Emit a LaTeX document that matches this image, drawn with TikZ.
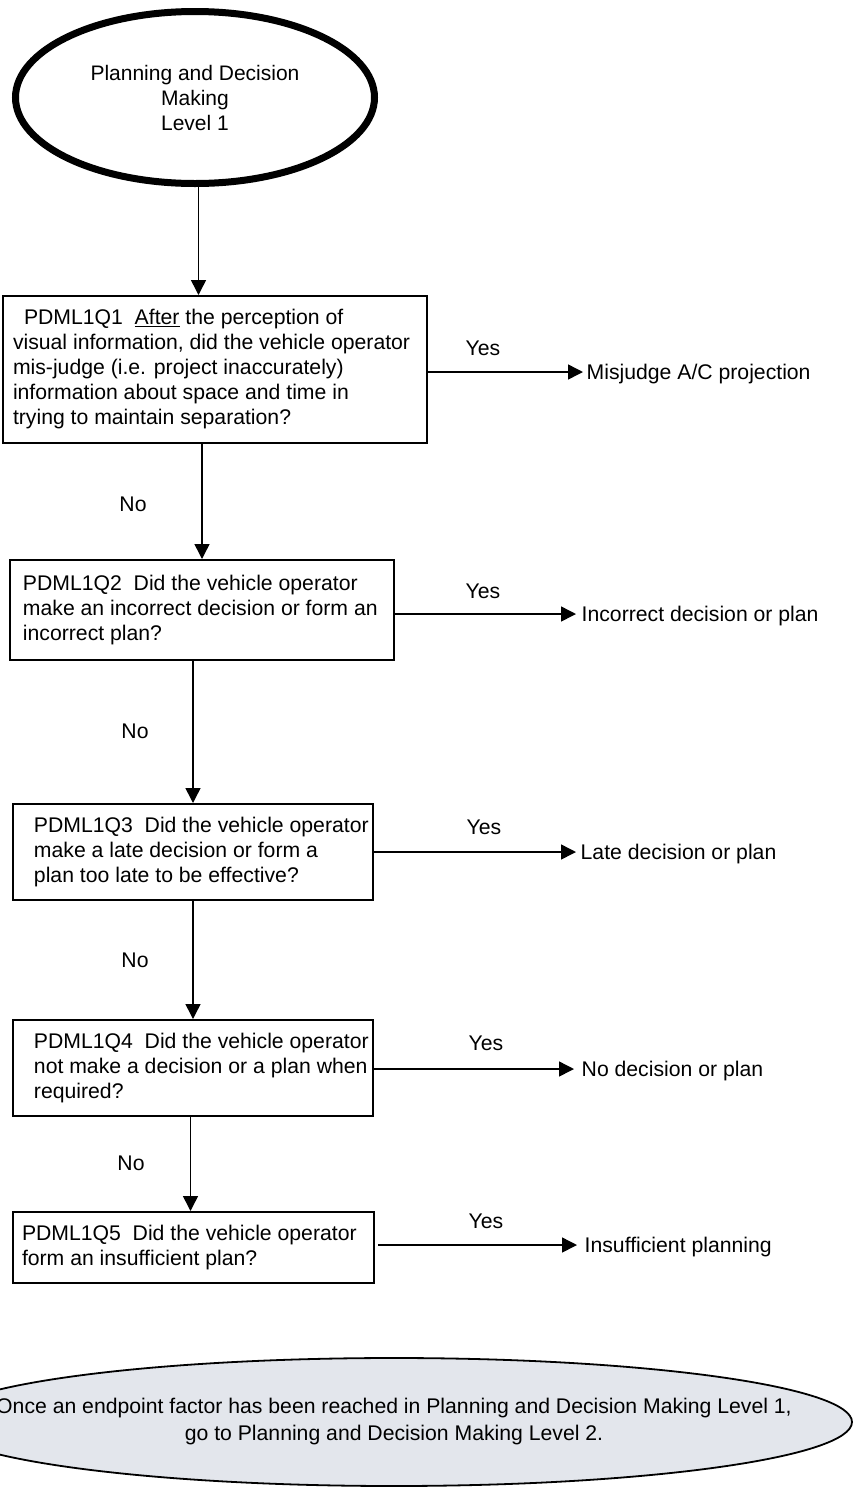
\documentclass[tikz,border=0pt]{standalone}
\usepackage{fontspec}
\setmainfont{Liberation Sans}
\usetikzlibrary{arrows.meta,shapes.geometric}
\definecolor{notefill}{RGB}{227,230,236}
% left-aligned lines in a box of fixed width (long lines may run on to the right)
\newcommand\qlines[2]{\makebox[#1][l]{\begin{tabular}{@{}l@{}}#2\end{tabular}}}

\begin{document}
\begin{tikzpicture}[x=1pt,y=-1pt,
  every node/.style={font=\fontsize{21.2}{25}\selectfont},
  qbox/.style={draw, rectangle, line width=2pt, inner ysep=0pt},
  flow/.style={line width=1.5pt, -{Triangle[length=15pt,width=15pt]}},
  lbl/.style={inner sep=0pt, text height=15.2pt, text depth=0pt},
  outcome/.style={lbl, anchor=west},
  startshape/.style={draw, ellipse, line width=7pt, minimum width=359pt,
    minimum height=172pt, align=center, font=\fontsize{21}{25}\selectfont},
  noteshape/.style={draw, ellipse, line width=1.8pt, fill=notefill,
    minimum width=916pt, minimum height=128pt, inner sep=0pt},
]
\useasboundingbox (0,0) rectangle (854,1489);

% start
\node[startshape] (e1) at (195,97.5) {Planning and Decision\\Making\\Level 1};

% questions
\node[qbox, minimum width=424pt, minimum height=147pt, inner xsep=10pt] (q1) at (215,369.5)
  {\qlines{404pt}{\hspace*{11pt}PDML1Q1\ \ \underline{After} the perception of\\
   visual information, did the vehicle operator\\
   mis-judge (i.e. project inaccurately)\\
   information about space and time in\\
   trying to maintain separation?}};
\node[qbox, minimum width=384pt, minimum height=100pt, inner xsep=13pt] (q2) at (202,610)
  {\qlines{358pt}{PDML1Q2\ \ Did the vehicle operator\\
   make an incorrect decision or form an\\
   incorrect plan?}};
\node[qbox, minimum width=360pt, minimum height=96pt, inner xsep=21pt] (q3) at (193,852)
  {\qlines{318pt}{PDML1Q3\ \ Did the vehicle operator\\
   make a late decision or form a\\
   plan too late to be effective?}};
\node[qbox, minimum width=360pt, minimum height=96pt, inner xsep=21pt] (q4) at (193,1068)
  {\qlines{318pt}{PDML1Q4\ \ Did the vehicle operator\\
   not make a decision or a plan when\\
   required?}};
\node[qbox, minimum width=361pt, minimum height=71pt, inner xsep=9pt] (q5) at (193.5,1247.5)
  {\qlines{343pt}{PDML1Q5\ \ Did the vehicle operator\\
   form an insufficient plan?}};

% outcomes
\node[outcome] (o1) at (586.5,372) {Misjudge A/C projection};
\node[outcome] (o2) at (581.5,614) {Incorrect decision or plan};
\node[outcome] (o3) at (580.5,852) {Late decision or plan};
\node[outcome] (o4) at (581.5,1069) {No decision or plan};
\node[outcome] (o5) at (584.5,1245) {Insufficient planning};

% branch labels
\node[lbl] (y1) at (483,348) {Yes};
\node[lbl] (y2) at (483,591) {Yes};
\node[lbl] (y3) at (484,827) {Yes};
\node[lbl] (y4) at (486,1043) {Yes};
\node[lbl] (y5) at (486,1221) {Yes};
\node[lbl] (n1) at (133,504) {No};
\node[lbl] (n2) at (135,731) {No};
\node[lbl] (n3) at (135,960) {No};
\node[lbl] (n4) at (131,1163) {No};

% closing note
\node[noteshape] (e2) at (394,1422) {};
\node[align=center, inner sep=0pt, font=\fontsize{21.2}{27}\selectfont] (e2t) at (e2.center)
  {Once an endpoint factor has been reached in Planning and Decision Making Level 1,\\
   go to Planning and Decision Making Level 2.};

% "No" path
\draw[flow] ([xshift=3.5pt]e1.south) -- ([xshift=3.5pt]e1.south |- q1.north);
\draw[flow] (q2.north |- q1.south) -- (q2.north);
\draw[flow] (q3.north |- q2.south) -- (q3.north);
\draw[flow] (q4.north |- q3.south) -- (q4.north);
\draw[flow] ([xshift=-3pt]q5.north |- q4.south) -- ([xshift=-3pt]q5.north);

% "Yes" branches
\draw[flow] (q1.east |- o1.west) -- ([xshift=-3.5pt]o1.west);
\draw[flow] (q2.east |- o2.west) -- ([xshift=-5.5pt]o2.west);
\draw[flow] (q3.east |- o3.west) -- ([xshift=-4.5pt]o3.west);
\draw[flow] (q4.east |- o4.west) -- ([xshift=-7.5pt]o4.west);
\draw[flow] ([xshift=3pt]q5.east |- o5.west) -- ([xshift=-7.5pt]o5.west);
\end{tikzpicture}
\end{document}
